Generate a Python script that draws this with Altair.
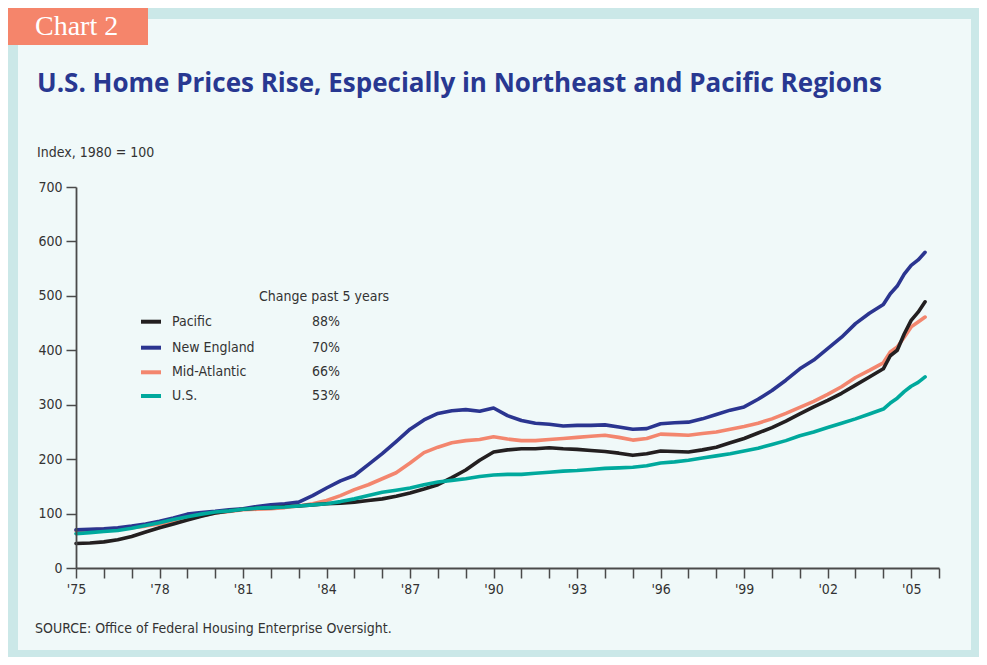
import altair as alt
import pandas as pd

# ---- data ----
T = [1975.0, 1975.5, 1976.0, 1976.5, 1977.0, 1977.5, 1978.0, 1978.5, 1979.0, 1979.5,
     1980.0, 1980.5, 1981.0, 1981.5, 1982.0, 1982.5, 1983.0, 1983.5, 1984.0, 1984.5,
     1985.0, 1985.5, 1986.0, 1986.5, 1987.0, 1987.5, 1988.0, 1988.5, 1989.0, 1989.5,
     1990.0, 1990.5, 1991.0, 1991.5, 1992.0, 1992.5, 1993.0, 1993.5, 1994.0, 1994.5,
     1995.0, 1995.5, 1996.0, 1996.5, 1997.0, 1997.5, 1998.0, 1998.5, 1999.0, 1999.5,
     2000.0, 2000.5, 2001.0, 2001.5, 2002.0, 2002.5, 2003.0, 2003.5, 2004.0, 2004.25,
     2004.5, 2004.75, 2005.0, 2005.25, 2005.5]

NEW_ENGLAND = [70, 71, 72, 74, 77, 81, 86, 92, 99, 102,
               104, 107, 109, 113, 116, 118, 121, 133, 147, 160,
               170, 190, 210, 232, 255, 272, 284, 289, 291, 288,
               294, 280, 271, 266, 264, 261, 262, 262, 263, 259,
               255, 256, 265, 267, 268, 274, 282, 290, 296, 310,
               326, 345, 366, 382, 403, 424, 449, 468, 484, 504,
               518, 540, 556, 566, 580]

MID_ATLANTIC = [69, 70, 71, 72, 74, 77, 81, 85, 90, 96,
                101, 104, 107, 108, 109, 111, 114, 118, 124, 133,
                144, 153, 164, 175, 193, 212, 222, 230, 234, 236,
                241, 237, 234, 234, 236, 238, 240, 242, 244, 240,
                235, 238, 246, 245, 244, 247, 250, 255, 260, 266,
                274, 284, 295, 306, 319, 333, 350, 363, 377, 397,
                406, 424, 443, 452, 461]

PACIFIC = [45, 46, 48, 52, 58, 66, 74, 81, 88, 95,
           101, 105, 108, 110, 111, 113, 114, 116, 118, 119,
           121, 124, 127, 132, 138, 145, 153, 166, 180, 198,
           213, 217, 219, 219, 221, 219, 218, 216, 214, 211,
           207, 210, 215, 214, 213, 217, 222, 230, 238, 248,
           258, 270, 283, 296, 308, 321, 336, 351, 366, 390,
           400, 430, 455, 470, 489]

US = [63, 65, 67, 69, 73, 78, 83, 89, 94, 99,
      103, 105, 108, 110, 111, 112, 114, 116, 118, 122,
      127, 133, 139, 143, 147, 153, 158, 161, 164, 168,
      171, 172, 172, 174, 176, 178, 179, 181, 183, 184,
      185, 188, 193, 195, 198, 202, 206, 210, 215, 220,
      227, 234, 243, 250, 258, 266, 274, 283, 292, 303,
      312, 324, 334, 341, 351]

LEGEND_NAMES = ["Pacific", "New England", "Mid-Atlantic", "U.S."]
LEGEND_PCTS = ["88%", "70%", "66%", "53%"]
LEGEND_COLORS = ["#231f20", "#2b3590", "#f3866e", "#00a99d"]

X_TICKS = list(range(1975, 2007))
Y_TICKS = [0, 100, 200, 300, 400, 500, 600, 700]

TITLE = "U.S. Home Prices Rise, Especially in Northeast and Pacific Regions"
TAG = "Chart 2"
Y_TITLE = "Index, 1980 = 100"
LEGEND_HEAD = "Change past 5 years"
SOURCE = "SOURCE: Office of Federal Housing Enterprise Oversight."

# ---- frame ----
rows = []
for name, vals in [("Mid-Atlantic", MID_ATLANTIC), ("New England", NEW_ENGLAND),
                   ("Pacific", PACIFIC), ("U.S.", US)]:
    for t, v in zip(T, vals):
        rows.append({"t": t, "v": v, "region": name})
df = pd.DataFrame(rows)

NARROW = "Liberation Sans Narrow, Arial Narrow, DejaVu Sans Condensed, sans-serif"
TXT = "#333333"
AXC = "#4a4a4a"
FS = 14

W, H = 863, 381

xenc = alt.X("t:Q",
             scale=alt.Scale(domain=[1975, 2006], nice=False, zero=False),
             axis=alt.Axis(values=X_TICKS, title=None, grid=False, zindex=1,
                           labelExpr="(datum.value - 1975) % 3 == 0 ? \"'\" + slice(toString(datum.value), 2) : ''",
                           tickSize=10, tickWidth=1.5, tickColor=AXC,
                           domainColor=AXC, domainWidth=1.8,
                           labelFont=NARROW, labelFontSize=FS, labelColor=TXT,
                           labelPadding=4, labelFlush=False, labelOverlap=False))
yenc = alt.Y("v:Q",
             scale=alt.Scale(domain=[0, 700], nice=False),
             axis=alt.Axis(values=Y_TICKS, title=None, grid=False, zindex=1,
                           tickSize=10, tickWidth=1.5, tickColor=AXC,
                           domainColor=AXC, domainWidth=1.8,
                           labelFont=NARROW, labelFontSize=FS, labelColor=TXT,
                           labelPadding=4))

one = pd.DataFrame({"a": [0]})

panel = alt.Chart(one).mark_rect(color="#f0f9f9").encode(
    x=alt.value(-58), x2=alt.value(895), y=alt.value(-168), y2=alt.value(463))

tag_box = alt.Chart(one).mark_rect(color="#f5856b").encode(
    x=alt.value(-70), x2=alt.value(72), y=alt.value(-190), y2=alt.value(-142))

tag_txt = alt.Chart(one).mark_text(align="left", baseline="alphabetic",
                                   font="Liberation Serif, DejaVu Serif, serif",
                                   fontSize=28, color="white").encode(
    x=alt.value(-41), y=alt.value(-152), text=alt.value(TAG))

title_txt = alt.Chart(one).mark_text(align="left", baseline="alphabetic",
                                     font="Open Sans, Lato, sans-serif", fontWeight="bold",
                                     fontSize=26, color="#283891").encode(
    x=alt.value(-39), y=alt.value(-95), text=alt.value(TITLE))

ytitle_txt = alt.Chart(one).mark_text(align="left", baseline="alphabetic",
                                      font=NARROW, fontSize=FS, color=TXT).encode(
    x=alt.value(-39), y=alt.value(-30), text=alt.value(Y_TITLE))

source_txt = alt.Chart(one).mark_text(align="left", baseline="alphabetic",
                                      font=NARROW, fontSize=FS, color=TXT).encode(
    x=alt.value(-41), y=alt.value(446), text=alt.value(SOURCE))

legend_head = alt.Chart(one).mark_text(align="left", baseline="alphabetic",
                                       font=NARROW, fontSize=FS, color=TXT).encode(
    x=alt.value(183), y=alt.value(114), text=alt.value(LEGEND_HEAD))

layers = [panel, tag_box, tag_txt, title_txt, ytitle_txt, source_txt, legend_head]

row_y = [134.7, 160.7, 185.3, 209]
for i, (nm, pc, col) in enumerate(zip(LEGEND_NAMES, LEGEND_PCTS, LEGEND_COLORS)):
    layers.append(alt.Chart(one).mark_rule(color=col, strokeWidth=4).encode(
        x=alt.value(65), x2=alt.value(85), y=alt.value(row_y[i])))
    layers.append(alt.Chart(one).mark_text(align="left", baseline="middle",
                                           font=NARROW, fontSize=FS, color=TXT).encode(
        x=alt.value(96), y=alt.value(row_y[i]), text=alt.value(nm)))
    layers.append(alt.Chart(one).mark_text(align="left", baseline="middle",
                                           font=NARROW, fontSize=FS, color=TXT).encode(
        x=alt.value(236), y=alt.value(row_y[i]), text=alt.value(pc)))

line_order = [("Mid-Atlantic", "#f3866e"), ("New England", "#2b3590"),
              ("Pacific", "#231f20"), ("U.S.", "#00a99d")]
for name, col in line_order:
    layers.append(alt.Chart(df).transform_filter(alt.datum.region == name).mark_line(
        color=col, strokeWidth=3.6, strokeJoin="round", strokeCap="round").encode(
        x=xenc, y=yenc))

chart = alt.layer(*layers).properties(
    width=W, height=H,
    autosize=alt.AutoSizeParams(type="none"),
    padding={"left": 68, "top": 179, "right": 40, "bottom": 89},
    background="#cbe8e8",
).configure_view(stroke=None)

chart.save("out.html", embed_options={"renderer": "svg", "actions": False})
